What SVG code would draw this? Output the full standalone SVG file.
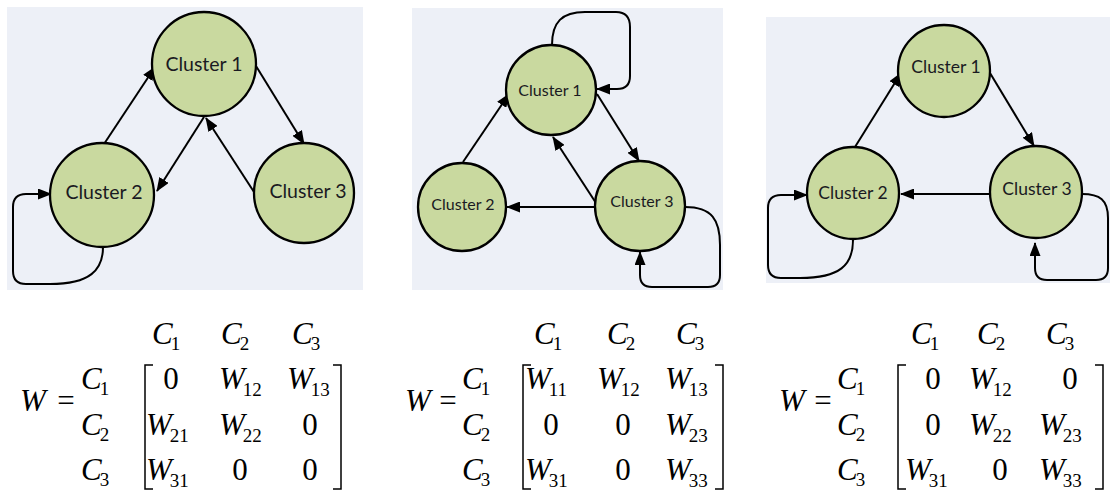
<svg xmlns="http://www.w3.org/2000/svg" width="1110" height="490" viewBox="0 0 1110 490">
<style>
.bg{fill:#edf0f7}
.nd circle{fill:#c9d99f;stroke:#000;stroke-width:2.3}
.lb{font-family:Lato,"Open Sans","Liberation Sans",sans-serif;fill:#1a1a22;text-anchor:middle}
.cn path{fill:none;stroke:#000;stroke-width:2;marker-end:url(#ah)}
.m{font-family:"Liberation Serif","Times New Roman",serif;font-style:italic;font-size:31px;fill:#000}
.s{font-style:normal;font-size:19px}
.n{font-family:"Liberation Serif","Times New Roman",serif;font-size:31px;text-anchor:middle;fill:#000}
.br{fill:none;stroke:#000;stroke-width:1.5}
</style>
<defs>
<marker id="ah" markerUnits="userSpaceOnUse" markerWidth="14" markerHeight="11" refX="13" refY="5.5" orient="auto">
<path d="M0,0 L14,5.5 L0,11 z" fill="#000"/>
</marker>
</defs>

<!-- backgrounds -->
<rect class="bg" x="7" y="7" width="356" height="283"/>
<rect class="bg" x="412" y="8" width="311" height="282"/>
<rect class="bg" x="766" y="17" width="344" height="266"/>

<!-- connectors -->
<g id="connectors" class="cn">
<path d="M104,144 L155,67"/>
<path d="M204,117 L157,191"/>
<path d="M254,192 L206,118"/>
<path d="M256,66 L304,144"/>
<path d="M103,247 C103,270 90,284 50,284 L26,284 Q13,284 13,271 L13,207 Q13,194 26,194 L51,194"/>

<path d="M463,162 L509,94"/>
<path d="M597,94 L639,161"/>
<path d="M596,203 L553,137"/>
<path d="M596,207 L507,207"/>
<path d="M552,45 C552,22 562,12 585,12 L616,12 Q630,12 630,27 L630,76 Q630,89 617,89 L597,89"/>
<path d="M685,207 C712,207 720,220 720,245 L720,275 Q720,287 708,287 L652,287 Q640,287 640,275 L640,252"/>

<path d="M855,147 L901,73"/>
<path d="M990,73 L1034,146"/>
<path d="M990,194 L901,194"/>
<path d="M853,240 C853,265 840,278 800,278 L781,278 Q768,278 768,265 L768,208 Q768,195 781,195 L807,195"/>
<path d="M1082,194 C1100,194 1108,200 1108,218 L1108,268 Q1108,280 1096,280 L1047,280 Q1035,280 1035,268 L1035,243"/>
</g>

<!-- panel 1 nodes -->
<g id="p1-cluster1" class="nd"><circle cx="204" cy="64" r="52"/><text class="lb" x="204" y="71" font-size="19.5">Cluster 1</text></g>
<g id="p1-cluster2" class="nd"><circle cx="102" cy="195" r="52"/><text class="lb" x="104" y="199" font-size="19.5">Cluster 2</text></g>
<g id="p1-cluster3" class="nd"><circle cx="304" cy="193" r="50"/><text class="lb" x="308" y="198" font-size="19.5">Cluster 3</text></g>

<!-- panel 2 nodes -->
<g id="p2-cluster1" class="nd"><circle cx="551" cy="90" r="45"/><text class="lb" x="550" y="96" font-size="16">Cluster 1</text></g>
<g id="p2-cluster2" class="nd"><circle cx="462" cy="207" r="44"/><text class="lb" x="463" y="210" font-size="16">Cluster 2</text></g>
<g id="p2-cluster3" class="nd"><circle cx="640" cy="206" r="45"/><text class="lb" x="642" y="207" font-size="16">Cluster 3</text></g>

<!-- panel 3 nodes -->
<g id="p3-cluster1" class="nd"><circle cx="944" cy="71" r="46"/><text class="lb" x="946" y="73" font-size="17.5">Cluster 1</text></g>
<g id="p3-cluster2" class="nd"><circle cx="853" cy="193" r="46"/><text class="lb" x="853" y="199" font-size="17.5">Cluster 2</text></g>
<g id="p3-cluster3" class="nd"><circle cx="1036" cy="192" r="46"/><text class="lb" x="1037" y="195" font-size="17.5">Cluster 3</text></g>

<!-- matrix 1 -->
<g id="matrix1">
<text class="m" x="20" y="411">W</text><text class="n" x="66" y="411">=</text>
<text class="m" x="152" y="344">C<tspan class="s" dx="-2" dy="6">1</tspan></text>
<text class="m" x="221" y="344">C<tspan class="s" dx="-2" dy="6">2</tspan></text>
<text class="m" x="292" y="344">C<tspan class="s" dx="-2" dy="6">3</tspan></text>
<text class="m" x="81" y="389">C<tspan class="s" dx="-2" dy="6">1</tspan></text>
<text class="m" x="81" y="435">C<tspan class="s" dx="-2" dy="6">2</tspan></text>
<text class="m" x="81" y="480">C<tspan class="s" dx="-2" dy="6">3</tspan></text>
<path class="br" d="M153,365 H145 V489 H153"/>
<path class="br" d="M333,365 H341 V489 H333"/>
<text class="n" x="171" y="389">0</text>
<text class="m" x="219" y="389">W<tspan class="s" dx="-2" dy="7">12</tspan></text>
<text class="m" x="287" y="389">W<tspan class="s" dx="-2" dy="7">13</tspan></text>
<text class="m" x="146" y="435">W<tspan class="s" dx="-2" dy="7">21</tspan></text>
<text class="m" x="219" y="435">W<tspan class="s" dx="-2" dy="7">22</tspan></text>
<text class="n" x="310" y="435">0</text>
<text class="m" x="146" y="480">W<tspan class="s" dx="-2" dy="7">31</tspan></text>
<text class="n" x="240" y="480">0</text>
<text class="n" x="310" y="480">0</text>
</g>

<!-- matrix 2 -->
<g id="matrix2">
<text class="m" x="405" y="411">W</text><text class="n" x="448" y="411">=</text>
<text class="m" x="534" y="344">C<tspan class="s" dx="-2" dy="6">1</tspan></text>
<text class="m" x="607" y="344">C<tspan class="s" dx="-2" dy="6">2</tspan></text>
<text class="m" x="676" y="344">C<tspan class="s" dx="-2" dy="6">3</tspan></text>
<text class="m" x="462" y="389">C<tspan class="s" dx="-2" dy="6">1</tspan></text>
<text class="m" x="462" y="435">C<tspan class="s" dx="-2" dy="6">2</tspan></text>
<text class="m" x="462" y="480">C<tspan class="s" dx="-2" dy="6">3</tspan></text>
<path class="br" d="M531,365 H523 V489 H531"/>
<path class="br" d="M715,365 H723 V489 H715"/>
<text class="m" x="525" y="389">W<tspan class="s" dx="-2" dy="7">11</tspan></text>
<text class="m" x="597" y="389">W<tspan class="s" dx="-2" dy="7">12</tspan></text>
<text class="m" x="665" y="389">W<tspan class="s" dx="-2" dy="7">13</tspan></text>
<text class="n" x="551" y="435">0</text>
<text class="n" x="623" y="435">0</text>
<text class="m" x="665" y="435">W<tspan class="s" dx="-2" dy="7">23</tspan></text>
<text class="m" x="525" y="480">W<tspan class="s" dx="-2" dy="7">31</tspan></text>
<text class="n" x="623" y="480">0</text>
<text class="m" x="665" y="480">W<tspan class="s" dx="-2" dy="7">33</tspan></text>
</g>

<!-- matrix 3 -->
<g id="matrix3">
<text class="m" x="779" y="411">W</text><text class="n" x="823" y="411">=</text>
<text class="m" x="911" y="344">C<tspan class="s" dx="-2" dy="6">1</tspan></text>
<text class="m" x="977" y="344">C<tspan class="s" dx="-2" dy="6">2</tspan></text>
<text class="m" x="1046" y="344">C<tspan class="s" dx="-2" dy="6">3</tspan></text>
<text class="m" x="837" y="389">C<tspan class="s" dx="-2" dy="6">1</tspan></text>
<text class="m" x="837" y="435">C<tspan class="s" dx="-2" dy="6">2</tspan></text>
<text class="m" x="837" y="480">C<tspan class="s" dx="-2" dy="6">3</tspan></text>
<path class="br" d="M906,365 H898 V489 H906"/>
<path class="br" d="M1095,365 H1103 V489 H1095"/>
<text class="n" x="933" y="389">0</text>
<text class="m" x="969" y="389">W<tspan class="s" dx="-2" dy="7">12</tspan></text>
<text class="n" x="1070" y="389">0</text>
<text class="n" x="933" y="435">0</text>
<text class="m" x="969" y="435">W<tspan class="s" dx="-2" dy="7">22</tspan></text>
<text class="m" x="1039" y="435">W<tspan class="s" dx="-2" dy="7">23</tspan></text>
<text class="m" x="905" y="480">W<tspan class="s" dx="-2" dy="7">31</tspan></text>
<text class="n" x="1000" y="480">0</text>
<text class="m" x="1039" y="480">W<tspan class="s" dx="-2" dy="7">33</tspan></text>
</g>
</svg>
